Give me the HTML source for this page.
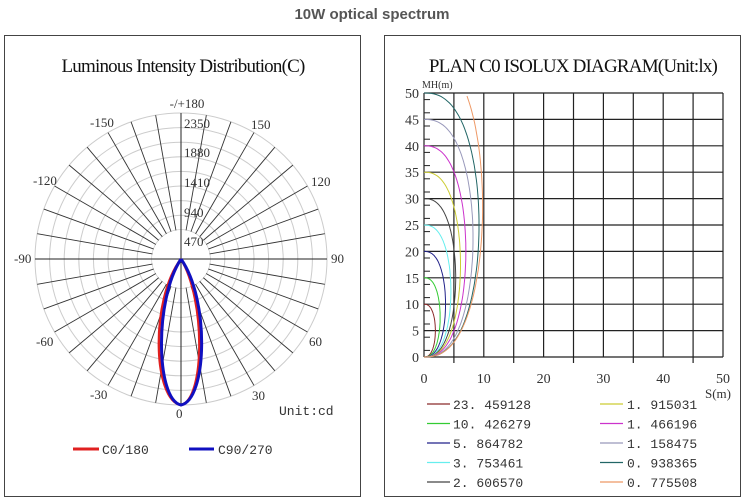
<!DOCTYPE html>
<html><head><meta charset="utf-8"><style>
body{margin:0;background:#fff;width:744px;height:502px;overflow:hidden}
svg{display:block}
</style></head><body>
<svg width="744" height="502" xmlns="http://www.w3.org/2000/svg" font-family="Liberation Serif, serif">
<text x="372" y="19" text-anchor="middle" font-family="Liberation Sans, sans-serif" font-weight="bold" font-size="15" fill="#555">10W optical spectrum</text>
<rect x="4.5" y="35.5" width="356" height="461" fill="#fff" stroke="#444"/>
<rect x="384.5" y="35.5" width="356" height="461" fill="#fff" stroke="#444"/>
<text x="183" y="72" text-anchor="middle" font-size="19" fill="#111" letter-spacing="-0.8">Luminous Intensity Distribution(C)</text>
<g id="polar"></g>
<text x="187" y="108" text-anchor="middle" font-size="13" fill="#333">-/+180</text>
<g font-size="13" fill="#333">
<text x="184" y="128">2350</text><text x="184" y="157">1880</text><text x="184" y="187">1410</text><text x="184" y="217">940</text><text x="184" y="246">470</text>
<text x="90" y="127">-150</text><text x="251" y="129">150</text>
<text x="33" y="185">-120</text><text x="311" y="186">120</text>
<text x="14" y="263">-90</text><text x="331" y="263">90</text>
<text x="36" y="346">-60</text><text x="309" y="346">60</text>
<text x="90" y="399">-30</text><text x="252" y="400">30</text>
<text x="176" y="418">0</text>
<text x="279" y="415" font-family="Liberation Mono, monospace">Unit:cd</text>
<text x="102" y="454" font-family="Liberation Mono, monospace">C0/180</text>
<text x="218" y="454" font-family="Liberation Mono, monospace">C90/270</text>
</g>
<line x1="73" y1="449" x2="99" y2="449" stroke="#e02020" stroke-width="3"/>
<line x1="189" y1="449" x2="214" y2="449" stroke="#1010c0" stroke-width="3"/>
<path d="M181,259 C150,300 153,400 181,405 C205,400 206,300 181,259" fill="none" stroke="#e02020" stroke-width="2.5"/>
<path d="M181,259 C154,300 156,400 181,405 C207,400 210,300 181,259" fill="none" stroke="#1010c0" stroke-width="3"/>

<text x="573" y="72" text-anchor="middle" font-size="19" fill="#111" letter-spacing="-0.8">PLAN C0 ISOLUX DIAGRAM(Unit:lx)</text>
<text x="422" y="88" font-size="10" fill="#333">MH(m)</text>
<g id="iso"></g>
<text x="705" y="398" font-size="13" fill="#333">S(m)</text>
<g id="leg" font-size="13" fill="#333" font-family="Liberation Mono, monospace"></g>
</svg>
<script>
const NS="http://www.w3.org/2000/svg";
function el(p,t,a){const e=document.createElementNS(NS,t);for(const k in a)e.setAttribute(k,a[k]);p.appendChild(e);return e;}
const P=document.getElementById('polar'),cx=181,cy=259,R=146,r0=29;
for(let i=1;i<=10;i++)el(P,'circle',{cx,cy,r:(R*i/10).toFixed(1),fill:'none',stroke:'#ccc','stroke-width':1});
for(let a=0;a<360;a+=10){if(a%90==0)continue;const t=a*Math.PI/180;
el(P,'line',{x1:cx+r0*Math.sin(t),y1:cy+r0*Math.cos(t),x2:cx+R*Math.sin(t),y2:cy+R*Math.cos(t),stroke:'#333','stroke-width':0.9});}
el(P,'circle',{cx,cy,r:r0,fill:'#fff',stroke:'none'});
el(P,'line',{x1:cx-R,y1:cy,x2:cx+R,y2:cy,stroke:'#222','stroke-width':1});
el(P,'line',{x1:cx,y1:cy-R,x2:cx,y2:cy+R,stroke:'#222','stroke-width':1});
const I=document.getElementById('iso'),x0=424,y0=357,sx=5.98,sy=5.28;
for(let i=0;i<=10;i++){const y=y0-i*5*sy;el(I,'line',{x1:x0,y1:y,x2:x0+50*sx,y2:y,stroke:'#222','stroke-width':1.2});
el(I,'text',{x:x0-5,y:y+5,'text-anchor':'end','font-size':14,fill:'#333'}).textContent=i*5;}
for(let i=0;i<=10;i++){const x=x0+i*5*sx;el(I,'line',{x1:x,y1:y0-50*sy,x2:x,y2:y0+(i%2?6:0),stroke:'#222','stroke-width':1.2});
if(i%2==0)el(I,'text',{x:x,y:y0+26,'text-anchor':'middle','font-size':14,fill:'#333'}).textContent=i*5;}
for(let i=0;i<20;i++){const y=y0-(i*2.5+1.25)*sy;el(I,'line',{x1:x0,y1:y,x2:x0+6,y2:y,stroke:'#222'});}
const cs=[[10,1.9,'#8b2a2a'],[15,2.7,'#33cc33'],[20,3.6,'#22228a'],[25,4.5,'#66eeee'],[30,5.3,'#444'],[35,6.1,'#cccc33'],[40,7.0,'#cc33cc'],[45,8.2,'#9999bb'],[50,9.2,'#226666'],[57,9.8,'#ee9966']];
cs.forEach(([H,a,c])=>{let d='';for(let k=0;k<=80;k++){const u=k/80;let y=H*(1+Math.cos(Math.PI*u))/2;let x=a*Math.pow(Math.sin(Math.PI*u),0.8);
if(y>50)continue;d+=(d?'L':'M')+(x0+x*sx).toFixed(1)+','+(y0-y*sy).toFixed(1);}
el(I,'path',{d,fill:'none',stroke:c,'stroke-width':1});});
const L=document.getElementById('leg');
const lab=[['23.459128','#8b2a2a'],['10.426279','#33cc33'],['5.864782','#22228a'],['3.753461','#66eeee'],['2.606570','#444'],['1.915031','#cccc33'],['1.466196','#cc33cc'],['1.158475','#9999bb'],['0.938365','#226666'],['0.775508','#ee9966']];
lab.forEach(([t,c],i)=>{const col=Math.floor(i/5),row=i%5,y=404+row*19.5;const lx=col?600:427,tx=col?627:453;
el(L,'line',{x1:lx,y1:y,x2:lx+23,y2:y,stroke:c,'stroke-width':1.2});
el(L,'text',{x:tx,y:y+5}).textContent=t.replace('.','. ');});
</script>
</body></html>
